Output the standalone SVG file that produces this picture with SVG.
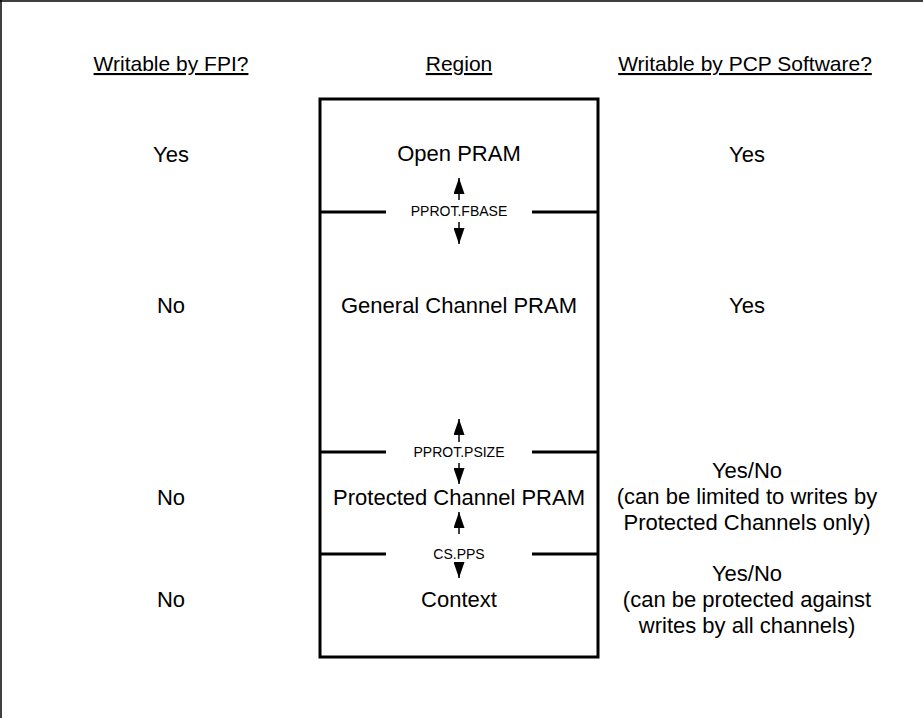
<svg xmlns="http://www.w3.org/2000/svg" width="923" height="718" viewBox="0 0 923 718">
<style>
text{font-family:"Liberation Sans",Arial,sans-serif;fill:#000;text-anchor:middle}
.h{font-size:21px;text-decoration:underline}
.t{font-size:22px}
.s{font-size:14px}
.box{fill:none;stroke:#000;stroke-width:3}
.div{stroke:#000;stroke-width:3}
.ar{stroke:#000;stroke-width:1.5;marker-end:url(#ah)}
</style>
<defs>
<marker id="ah" viewBox="0 0 16 11" refX="16" refY="5.5" markerWidth="16" markerHeight="11" markerUnits="userSpaceOnUse" orient="auto">
<path d="M0,0 L16,5.5 L0,11 Z" fill="#000"/>
</marker>
</defs>
<rect width="923" height="718" fill="#fff"/>
<path d="M0,1 H923 M1,0 V718" stroke="#000" stroke-width="1.5" fill="none"/>
<g id="headers">
<text class="h" x="171" y="71">Writable by FPI?</text>
<text class="h" x="459" y="71">Region</text>
<text class="h" x="745" y="71">Writable by PCP Software?</text>
</g>
<g id="region-box">
<rect class="box" x="320" y="99" width="278" height="558"/>
<line class="div" x1="320" y1="212" x2="386" y2="212"/>
<line class="div" x1="532" y1="212" x2="598" y2="212"/>
<line class="div" x1="320" y1="452" x2="386" y2="452"/>
<line class="div" x1="532" y1="452" x2="598" y2="452"/>
<line class="div" x1="320" y1="554" x2="386" y2="554"/>
<line class="div" x1="532" y1="554" x2="598" y2="554"/>
</g>
<g id="open-pram">
<text class="t" x="171" y="162">Yes</text>
<text class="t" x="459" y="161">Open PRAM</text>
<text class="t" x="747" y="162">Yes</text>
</g>
<g id="general-pram">
<text class="t" x="171" y="313">No</text>
<text class="t" x="459" y="313">General Channel PRAM</text>
<text class="t" x="747" y="313">Yes</text>
</g>
<g id="protected-pram">
<text class="t" x="171" y="505">No</text>
<text class="t" x="459" y="505">Protected Channel PRAM</text>
<text class="t" x="747" y="478">Yes/No</text>
<text class="t" x="747" y="504">(can be limited to writes by</text>
<text class="t" x="747" y="530">Protected Channels only)</text>
</g>
<g id="context">
<text class="t" x="171" y="607">No</text>
<text class="t" x="459" y="607">Context</text>
<text class="t" x="747" y="581">Yes/No</text>
<text class="t" x="747" y="607">(can be protected against</text>
<text class="t" x="747" y="633">writes by all channels)</text>
</g>
<g id="boundary-labels">
<text class="s" x="459" y="216">PPROT.FBASE</text>
<text class="s" x="459" y="457">PPROT.PSIZE</text>
<text class="s" x="459" y="559">CS.PPS</text>
</g>
<g id="connectors">
<line class="ar" x1="459" y1="200" x2="459" y2="178"/>
<line class="ar" x1="459" y1="222" x2="459" y2="244"/>
<line class="ar" x1="459" y1="442" x2="459" y2="419"/>
<line class="ar" x1="459" y1="463" x2="459" y2="484"/>
<line class="ar" x1="459" y1="534" x2="459" y2="512"/>
<line class="ar" x1="459" y1="563" x2="459" y2="578"/>
</g>
</svg>
